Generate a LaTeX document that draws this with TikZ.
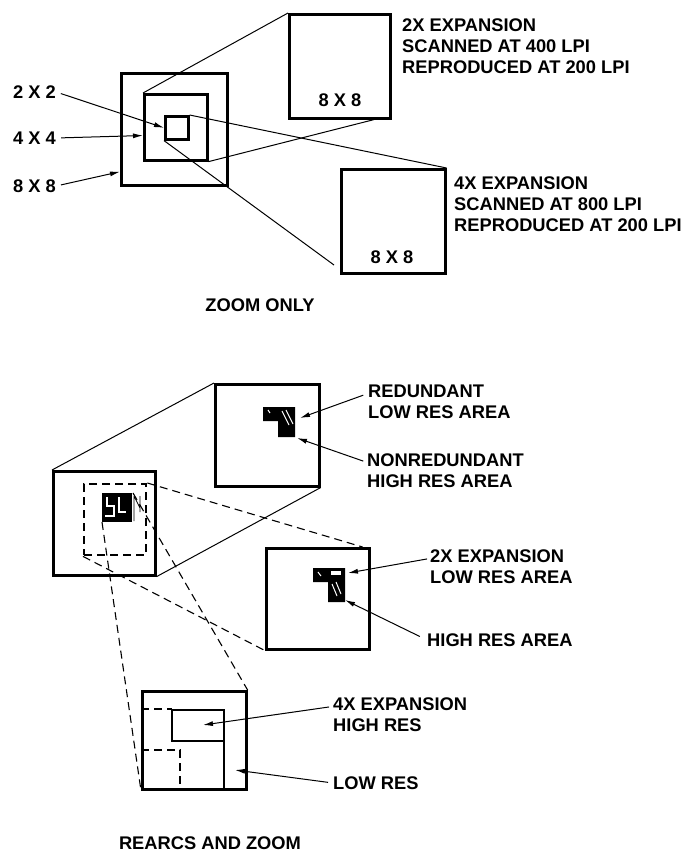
\documentclass[tikz,border=0pt]{standalone}
\usepackage{fontspec}
\setmainfont{Liberation Sans}
\usetikzlibrary{arrows.meta, positioning, calc}

\begin{document}
\begin{tikzpicture}[x=1pt, y=-1pt,
  box/.style={draw, line width=2.6pt, inner sep=0pt, anchor=north west},
  dbox/.style={draw, line width=2.4pt, inner sep=0pt, anchor=north west, dash pattern=on 8pt off 5pt},
  lbl/.style={font=\fontsize{18.3}{21}\selectfont\bfseries, anchor=west, inner sep=0pt, align=left},
  lead/.style={line width=1pt},
  arr/.style={line width=1pt, -{Latex[length=10pt,width=5pt]}},
  dline/.style={line width=1.1pt, dash pattern=on 8pt off 5pt}]
  \useasboundingbox[fill=white] (0,0) rectangle (683,854);

  % Zoom only: nested squares
  \node[box, minimum width=106pt, minimum height=112pt] (big) at (120,72) {};
  \node[box, minimum width=63pt, minimum height=66pt] (mid) at (143,93) {};
  \node[box, minimum width=23pt, minimum height=23pt] (small) at (164,115) {};
  % Expanded views
  \node[box, minimum width=101pt, minimum height=104pt] (exptwo) at (288,13) {};
  \node[box, minimum width=104pt, minimum height=104pt] (expfour) at (340,168) {};
  \node[lbl, anchor=center] (szA) at (340,100) {8 X 8};
  \node[lbl, anchor=center] (szB) at (392,257) {8 X 8};
  % Size labels
  \node[lbl] (ltwo) at (13,92) {2 X 2};
  \node[lbl] (lfour) at (13,138) {4 X 4};
  \node[lbl] (leight) at (13,186) {8 X 8};
  \draw[arr, shorten <=5pt] (ltwo.east) -- (small.west);
  \draw[arr, shorten <=5pt] (lfour.east) -- ($(mid.south west)!0.38!(mid.north west)$);
  \draw[arr, shorten <=5pt] (leight.east) -- ($(big.south west)!0.13!(big.north west)$);
  % Projection lines
  \coordinate (endB) at ($(exptwo.south west)!0.83!(exptwo.south east)$);
  \coordinate (endC) at (334,265);
  \draw[lead] (mid.north west) -- (exptwo.north west);
  \draw[lead] (small.north east) -- (expfour.north east);
  \draw[lead] (mid.south east) -- (endB);
  \draw[lead] (small.south west) -- (endC);
  % Captions
  \node[lbl] (ctwo) at (402,46) {2X EXPANSION\\SCANNED AT 400 LPI\\REPRODUCED AT 200 LPI};
  \node[lbl] (cfour) at (454,204) {4X EXPANSION\\SCANNED AT 800 LPI\\REPRODUCED AT 200 LPI};
  \node[lbl, anchor=center] (zoomonly) at (260,305) {ZOOM ONLY};

  % Rearcs and zoom: source square
  \node[box, minimum width=102pt, minimum height=104pt] (src) at (52,470) {};
  \node[dbox, minimum width=62pt, minimum height=71pt] (area) at (83,483) {};
  \fill (102,493) rectangle (132,522);
  \draw[white, line width=1.5pt] (107,497) -- (107,506) -- (114,506) -- (114,516) -- (105,516);
  \draw[white, line width=1.5pt] (119,497) -- (119,512) -- (126,512);
  \draw[line width=0.8pt] (134,496) -- (134,521) (134,496) -- (140,508) (140,496) -- (140,512);
  \coordinate (glyphBL) at (102,522);
  \coordinate (glyphTR) at (133,493);
  % Redundant view
  \node[box, minimum width=104pt, minimum height=102pt] (redund) at (214,383) {};
  \fill (263,407) -- (295,407) -- (295,437) -- (278,437) -- (278,421) -- (263,421) -- cycle;
  \draw[white, line width=1pt] (282,411) -- (289,425) (286,410) -- (293,424) (268,410) -- (270,413);
  % 2X expansion view
  \node[box, minimum width=103pt, minimum height=101pt] (twox) at (265,547) {};
  \fill (313,568) -- (345,568) -- (345,602) -- (328,602) -- (328,582) -- (313,582) -- cycle;
  \fill[white] (331,571) rectangle (341,575);
  \draw[white, line width=1pt] (332,584) -- (337,596) (336,582) -- (341,594) (318,572) -- (321,576);
  % 4X expansion view
  \node[box, minimum width=104pt, minimum height=98pt] (fourx) at (141,690) {};
  \draw[line width=2.6pt] (172,710) rectangle (224,741);
  \draw[line width=2.6pt] (224,741) -- (224,788);
  \draw[line width=2.4pt, dash pattern=on 8pt off 5pt] (141,709) -- (172,709);
  \draw[line width=2.4pt, dash pattern=on 8pt off 5pt] (141,750) -- (180,750) -- (180,788);
  % Projection lines
  \draw[lead] (src.north west) -- (redund.north west);
  \draw[lead] (src.south east) -- (redund.south east);
  \coordinate (twoxTop) at ($(twox.north east)+(-8,0)$);
  \draw[dline] (area.north east) -- (twoxTop);
  \draw[dline] (area.south west) -- (twox.south west);
  \draw[dline] (glyphBL) -- (fourx.south west);
  \draw[dline] (glyphTR) -- (fourx.north east);
  % Labels and leaders
  \node[lbl] (tred) at (368,402) {REDUNDANT\\LOW RES AREA};
  \node[lbl] (tnon) at (367,471) {NONREDUNDANT\\HIGH RES AREA};
  \node[lbl] (texp) at (430,567) {2X EXPANSION\\LOW RES AREA};
  \node[lbl] (thigh) at (427,640) {HIGH RES AREA};
  \node[lbl] (tfour) at (333,715) {4X EXPANSION\\HIGH RES};
  \node[lbl] (tlow) at (333,783) {LOW RES};
  \coordinate (tipA) at (300,418);
  \coordinate (tipB) at (297,438);
  \coordinate (tipC) at (348,573);
  \coordinate (tipD) at (345,600);
  \coordinate (tipE) at (203,725);
  \coordinate (tipF) at (235,770);
  \draw[arr, shorten <=5pt] ($(tred.north west)!0.25!(tred.south west)$) -- (tipA);
  \draw[arr, shorten <=4pt] ($(tnon.north west)!0.25!(tnon.south west)$) -- (tipB);
  \draw[arr, shorten <=3pt] ($(texp.north west)!0.25!(texp.south west)$) -- (tipC);
  \draw[arr, shorten <=8pt] (thigh.west) -- (tipD);
  \draw[arr, shorten <=4pt] ($(tfour.north west)!0.25!(tfour.south west)$) -- (tipE);
  \draw[arr, shorten <=5pt] (tlow.west) -- (tipF);
  \node[lbl, anchor=center] (rearcs) at (210,843) {REARCS AND ZOOM};
\end{tikzpicture}
\end{document}
